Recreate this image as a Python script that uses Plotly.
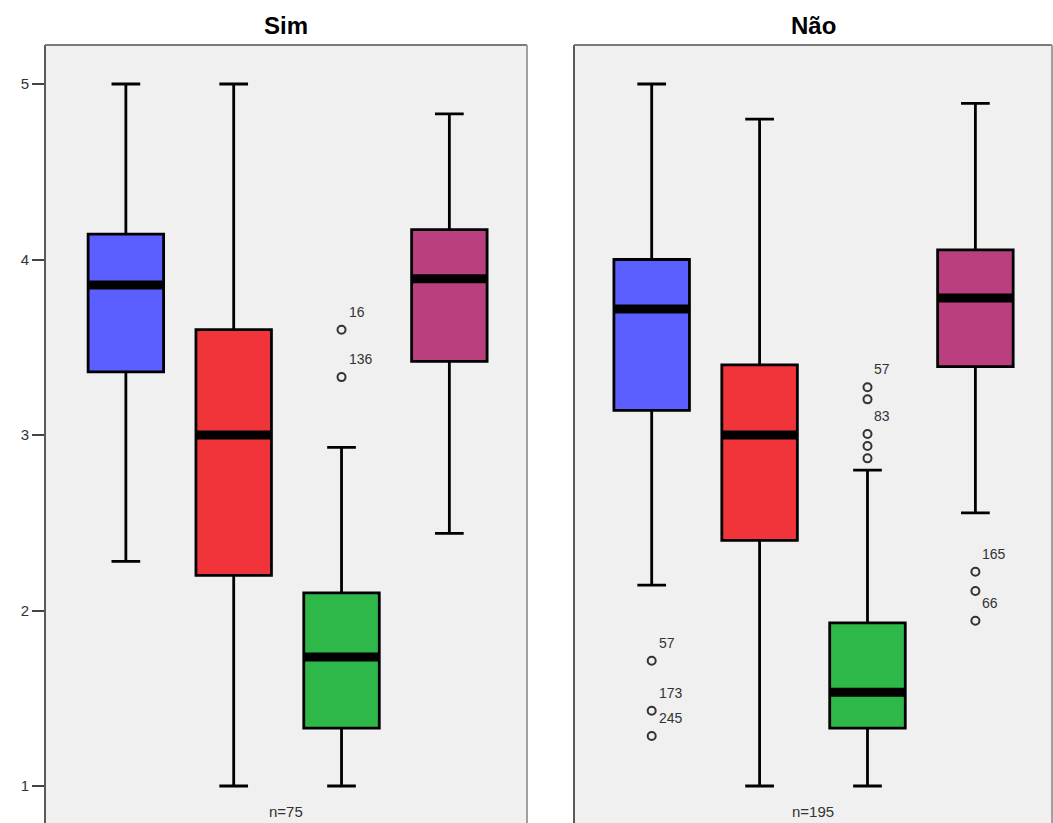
import plotly.graph_objects as go

# ---------------- data ----------------
groups = ["Sim", "Não"]
group_n = ["n=75", "n=195"]
variables = ["Variável 1", "Variável 2", "Variável 3", "Variável 4"]
colors = ["#5B5FFF", "#F1333A", "#2FB84A", "#B93F7F"]

sim_low = [2.28, 1.00, 1.00, 2.44]
sim_q1 = [3.36, 2.20, 1.33, 3.42]
sim_median = [3.855, 3.00, 1.735, 3.89]
sim_q3 = [4.145, 3.60, 2.10, 4.17]
sim_high = [5.00, 5.00, 2.93, 4.83]
sim_out_var = [2, 2]
sim_out_y = [3.60, 3.33]
sim_out_lbl = ["16", "136"]

nao_low = [2.145, 1.00, 1.00, 2.556]
nao_q1 = [3.14, 2.40, 1.33, 3.39]
nao_median = [3.718, 3.00, 1.534, 3.78]
nao_q3 = [4.00, 3.40, 1.93, 4.055]
nao_high = [5.00, 4.80, 2.80, 4.89]
nao_out_var = [0, 0, 0, 2, 2, 2, 2, 2, 3, 3, 3]
nao_out_y = [1.714, 1.429, 1.285, 3.272, 3.203, 3.006, 2.937, 2.867, 2.221, 2.111, 1.942]
nao_out_lbl = ["57", "173", "245", "57", "", "83", "", "", "165", "", "66"]

# ---------------- figure ----------------
W, H = 1053, 823
BOX_W = 0.70
FONT = "Liberation Sans, Arial, sans-serif"

panels = [
    dict(low=sim_low, q1=sim_q1, med=sim_median, q3=sim_q3, high=sim_high,
         ov=sim_out_var, oy=sim_out_y, ol=sim_out_lbl, xa="x", ya="y"),
    dict(low=nao_low, q1=nao_q1, med=nao_median, q3=nao_q3, high=nao_high,
         ov=nao_out_var, oy=nao_out_y, ol=nao_out_lbl, xa="x2", ya="y2"),
]

fig = go.Figure()
annotations = []

for p in panels:
    for i, v in enumerate(variables):
        fig.add_trace(go.Box(
            x=[i], q1=[p["q1"][i]], median=[p["med"][i]], q3=[p["q3"][i]],
            lowerfence=[p["low"][i]], upperfence=[p["high"][i]],
            name=v, width=BOX_W, whiskerwidth=0.38,
            fillcolor=colors[i], line=dict(color="black", width=2.8),
            boxpoints=False, showlegend=False, hoverinfo="skip",
            xaxis=p["xa"], yaxis=p["ya"],
        ))
        # thick median bar
        fig.add_trace(go.Scatter(
            x=[i - BOX_W / 2 + 0.01, i + BOX_W / 2 - 0.01],
            y=[p["med"][i], p["med"][i]],
            mode="lines", line=dict(color="black", width=9),
            showlegend=False, hoverinfo="skip",
            xaxis=p["xa"], yaxis=p["ya"],
        ))
    # outliers
    fig.add_trace(go.Scatter(
        x=p["ov"], y=p["oy"], mode="markers",
        marker=dict(symbol="circle-open", size=8, color="#333333",
                    line=dict(width=2, color="#333333")),
        showlegend=False, hoverinfo="skip",
        xaxis=p["xa"], yaxis=p["ya"],
    ))
    for xv, yv, lbl in zip(p["ov"], p["oy"], p["ol"]):
        if lbl:
            annotations.append(dict(
                x=xv, y=yv, xref=p["xa"], yref=p["ya"], text=lbl,
                showarrow=False, xanchor="left", yanchor="middle",
                xshift=5, yshift=18,
                font=dict(family=FONT, size=14, color="#333333"),
            ))

x_doms = [[45 / W, 527 / W], [574 / W, 1052 / W]]
top = 1 - 45 / H

# titles and n labels
for k, g in enumerate(groups):
    cx = (x_doms[k][0] + x_doms[k][1]) / 2
    annotations.append(dict(
        x=cx, y=1 - 25 / H, xref="paper", yref="paper", text="<b>%s</b>" % g,
        showarrow=False, xanchor="center", yanchor="middle",
        font=dict(family=FONT, size=24, color="black"),
    ))
    annotations.append(dict(
        x=cx, y=1 - 811 / H, xref="paper", yref="paper", text=group_n[k],
        showarrow=False, xanchor="center", yanchor="middle",
        font=dict(family=FONT, size=15, color="#333333"),
    ))

# panel borders (left, top, right) - bottom is cut off
shapes = []
for k in range(2):
    x0, x1 = x_doms[k]
    shapes.append(dict(type="line", xref="paper", yref="paper", x0=x0, x1=x0, y0=0, y1=top,
                       line=dict(color="#5A5A5A", width=2)))
    shapes.append(dict(type="line", xref="paper", yref="paper", x0=x0, x1=x1, y0=top, y1=top,
                       line=dict(color="#7A7A7A", width=2)))
    shapes.append(dict(type="line", xref="paper", yref="paper", x0=x1, x1=x1, y0=0, y1=top,
                       line=dict(color="#A0A0A0", width=2)))

yr = [1 - 37 / 175.5, 5 + 39 / 175.5]

fig.update_layout(
    width=W, height=H, margin=dict(l=0, r=0, t=0, b=0),
    paper_bgcolor="white", plot_bgcolor="#F0F0F0",
    font=dict(family=FONT, size=14, color="#333333"),
    showlegend=False,
    xaxis=dict(domain=x_doms[0], range=[-0.75, 3.72], showticklabels=False, ticks="",
               showgrid=False, zeroline=False, showline=False),
    xaxis2=dict(domain=x_doms[1], range=[-0.72, 3.71], showticklabels=False, ticks="",
                showgrid=False, zeroline=False, showline=False),
    yaxis=dict(domain=[0, top], range=yr, anchor="x", tickvals=[1, 2, 3, 4, 5],
               ticks="outside", ticklen=12, tickwidth=2, tickcolor="#444444",
               showgrid=False, zeroline=False, showline=False,
               tickfont=dict(family=FONT, size=15, color="#333333")),
    yaxis2=dict(domain=[0, top], range=yr, anchor="x2", matches="y",
                showticklabels=False, ticks="", showgrid=False, zeroline=False, showline=False),
    annotations=annotations, shapes=shapes,
)

fig.write_html("out.html", config={"displayModeBar": False},
               post_script="document.body.style.margin='0';")
